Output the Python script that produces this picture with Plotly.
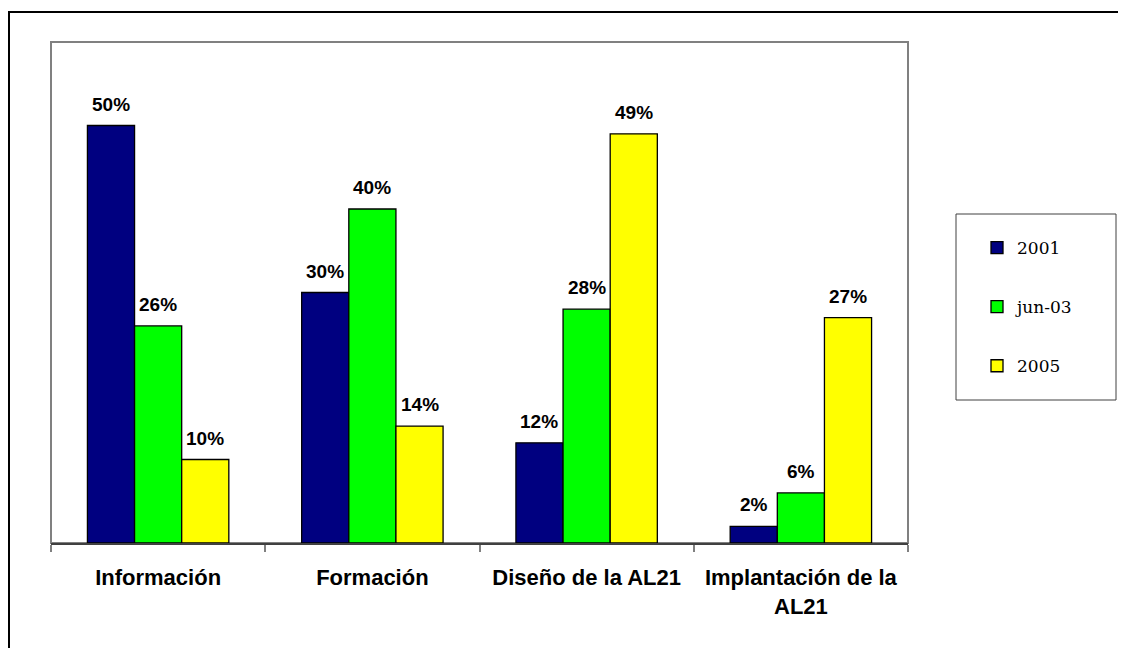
import plotly.graph_objects as go

categories = ['Información', 'Formación', 'Diseño de la AL21', 'Implantación de la<br>AL21']
series_names = ['2001', 'jun-03', '2005']
values_2001 = [50, 30, 12, 2]
values_jun03 = [26, 40, 28, 6]
values_2005 = [10, 14, 49, 27]
colors = ['#000080', '#00FF00', '#FFFF00']

# page is offset by the 8px body margin, so the figure is 8px smaller
W, H = 1118, 640
ML, MT, PW, PH = 43, 34, 857, 501
BARGAP = 0.34
bar_px = PW / len(categories) * (1 - BARGAP) / len(series_names)


def px_x(x):  # page px -> paper
    return (x - 8 - ML) / PW


def px_y(y):
    return (MT + PH - (y - 8)) / PH


fig = go.Figure()
annotations = []
all_vals = [values_2001, values_jun03, values_2005]
for i, (name, vals, col) in enumerate(zip(series_names, all_vals, colors)):
    fig.add_trace(go.Bar(
        x=categories, y=vals, name=name, legendgroup=name,
        marker=dict(color=col, line=dict(color='black', width=1.3)),
    ))
    for c, v in zip(categories, vals):
        annotations.append(dict(
            x=c, y=v, xref='x', yref='y', text=f'{v}%', showarrow=False,
            xanchor='center', yanchor='bottom',
            xshift=(i - 1) * bar_px, yshift=9,
            font=dict(family='Liberation Sans, Arial', size=19, color='black', weight='bold'),
        ))

fig.update_layout(
    width=W, height=H,
    margin=dict(l=ML, r=W - ML - PW, t=MT, b=H - MT - PH),
    paper_bgcolor='white', plot_bgcolor='white',
    barmode='group', bargap=BARGAP, bargroupgap=0,
    showlegend=True,
    legend=dict(x=px_x(977), y=px_y(230), xanchor='left', yanchor='top',
                traceorder='grouped', tracegroupgap=34,
                font=dict(family='DejaVu Serif, Georgia, serif', size=17, color='black'),
                bgcolor='rgba(0,0,0,0)', borderwidth=0),
    xaxis=dict(showline=True, linecolor='#404040', linewidth=2, ticks='outside',
               tickson='boundaries', ticklen=7, tickcolor='#808080', tickwidth=1.5,
               ticklabelstandoff=14,
               tickfont=dict(family='Liberation Sans, Arial', size=22, color='black', weight='bold'),
               showgrid=False),
    yaxis=dict(range=[0, 60], showticklabels=False, showgrid=False, zeroline=False,
               showline=False, ticks=''),
    annotations=annotations,
    shapes=[
        # plot area frame
        dict(type='rect', xref='paper', yref='paper', x0=0, x1=1, y0=0, y1=1,
             line=dict(color='#808080', width=2), layer='below'),
        # legend box
        dict(type='rect', xref='paper', yref='paper',
             x0=px_x(956), x1=px_x(1116), y0=px_y(400), y1=px_y(214),
             line=dict(color='#404040', width=1)),
        # outer frame (cropped at right and bottom)
        dict(type='line', xref='paper', yref='paper',
             x0=px_x(8), x1=px_x(1140), y0=px_y(12), y1=px_y(12),
             line=dict(color='black', width=2)),
        dict(type='line', xref='paper', yref='paper',
             x0=px_x(9), x1=px_x(9), y0=px_y(12), y1=px_y(660),
             line=dict(color='black', width=2)),
    ],
)

fig.write_html("out.html")
